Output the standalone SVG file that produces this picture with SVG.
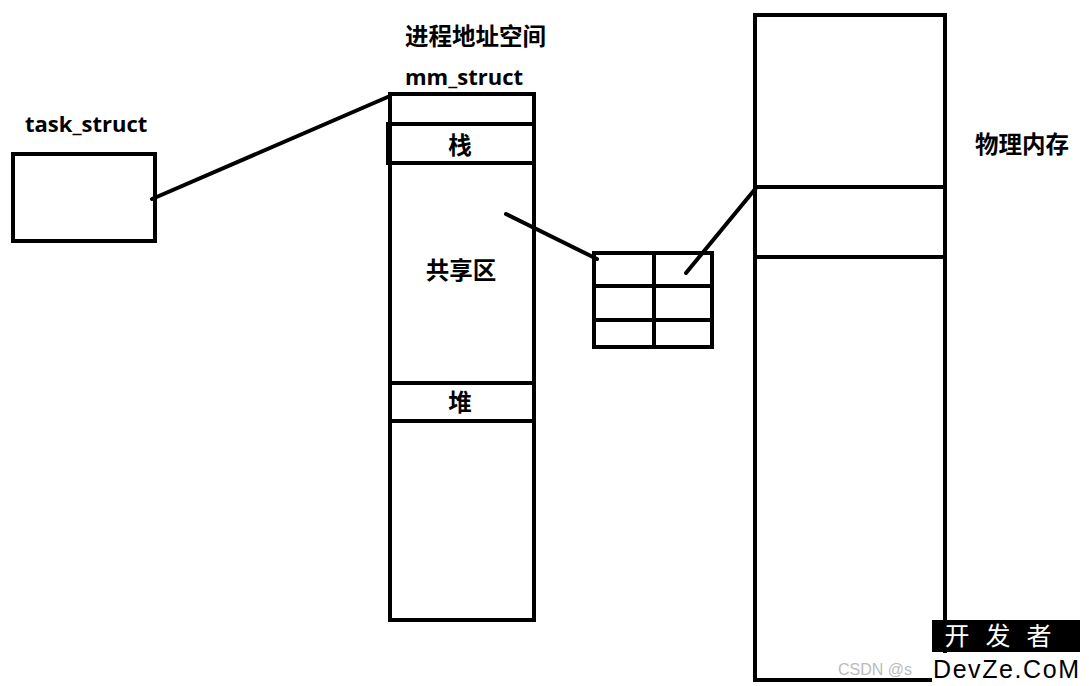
<svg xmlns="http://www.w3.org/2000/svg" width="1089" height="686" viewBox="0 0 1089 686">
<style>
.box{fill:none;stroke:#000;stroke-width:4}
.ln{stroke:#000;stroke-width:4;stroke-linecap:round}
.t{font-family:"Open Sans","Noto Sans CJK SC",sans-serif;font-weight:bold;font-size:22px;fill:#000}
.c{font-family:"Noto Sans CJK SC",sans-serif;font-weight:bold;font-size:23.5px;fill:#000}
</style>
<rect width="1089" height="686" fill="#fff"/>
<g id="task_struct">
<text class="t" x="25" y="132">task_struct</text>
<rect class="box" x="13" y="154" width="142" height="87"/>
</g>
<g id="mm_struct">
<text class="c" x="405" y="45">进程地址空间</text>
<text class="t" x="405" y="85">mm_struct</text>
<rect class="box" x="390" y="94" width="144" height="526"/>
<rect class="box" x="388" y="124" width="146" height="39"/>
<text class="c" x="460" y="154" text-anchor="middle">栈</text>
<text class="c" x="461" y="279" text-anchor="middle">共享区</text>
<line class="box" x1="390" y1="383" x2="534" y2="383"/>
<line class="box" x1="390" y1="421" x2="534" y2="421"/>
<text class="c" x="460" y="411" text-anchor="middle">堆</text>
</g>
<g id="page_table">
<rect class="box" x="594" y="253" width="118" height="94"/>
<line class="box" x1="654" y1="253" x2="654" y2="347"/>
<line class="box" x1="594" y1="286" x2="712" y2="286"/>
<line class="box" x1="594" y1="320" x2="712" y2="320"/>
</g>
<g id="physical_memory">
<rect class="box" x="755" y="15" width="190" height="665"/>
<line class="box" x1="755" y1="187" x2="945" y2="187"/>
<line class="box" x1="755" y1="257" x2="945" y2="257"/>
<text class="c" x="975" y="153">物理内存</text>
</g>
<g id="connectors">
<line class="ln" x1="152" y1="199" x2="390" y2="96"/>
<line class="ln" x1="506" y1="214" x2="597" y2="259"/>
<line class="ln" x1="686" y1="273" x2="756" y2="188"/>
</g>
<g id="watermark">
<text x="838" y="675" font-family="Liberation Sans,sans-serif" font-size="16" fill="#bbb">CSDN @s</text>
<rect x="932" y="620" width="148" height="32" fill="#000"/>
<text x="1006" y="645" text-anchor="middle" font-family="Noto Sans CJK SC,sans-serif" font-size="25" fill="#fff" letter-spacing="16">开发者</text>
<rect x="932" y="653" width="150" height="29" fill="#fff"/>
<text x="1006" y="678" text-anchor="middle" font-family="Liberation Sans,sans-serif" font-size="25" fill="#000" textLength="146">DevZe.CoM</text>
</g>
</svg>
